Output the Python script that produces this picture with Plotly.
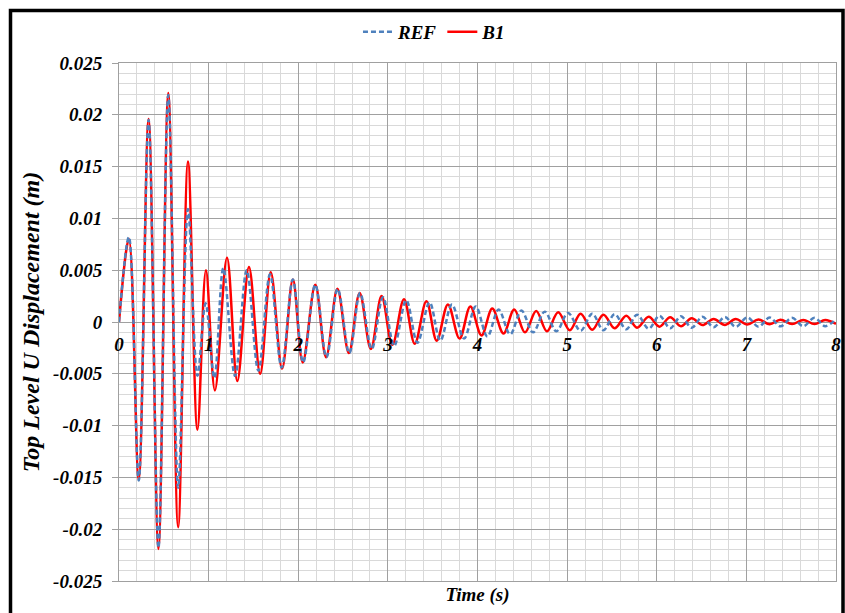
import plotly.graph_objects as go

# B1 (solid red) peaks/troughs
b1_t = [0.0, 0.11, 0.22, 0.33, 0.44, 0.55, 0.66, 0.77, 0.875, 0.97, 1.07, 1.205, 1.32, 1.45, 1.575,
        1.693, 1.82, 1.94, 2.05, 2.19, 2.31, 2.437, 2.565, 2.685, 2.81, 2.93, 3.05, 3.18, 3.30, 3.43,
        3.545, 3.67, 3.80, 3.92, 4.045, 4.165, 4.29, 4.41, 4.53, 4.655, 4.775, 4.90, 5.03, 5.15, 5.28,
        5.405, 5.53, 5.66, 5.78, 5.91, 6.03, 6.15, 6.27, 6.39, 6.51, 6.635, 6.76, 6.88, 7.01, 7.135,
        7.26, 7.38, 7.51, 7.635, 7.76, 7.88, 8.0]
b1_v = [0.0, 0.0080, -0.0152, 0.0196, -0.0219, 0.0221, -0.0198, 0.0155, -0.0104, 0.0050, -0.0066,
        0.0062, -0.0057, 0.0053, -0.0050, 0.0048, -0.0045, 0.0041, -0.0039, 0.0036, -0.0034, 0.0032,
        -0.0030, 0.0028, -0.0026, 0.0025, -0.0022, 0.0022, -0.0021, 0.0020, -0.0018, 0.0017, -0.0016,
        0.0015, -0.0013, 0.0013, -0.0011, 0.0012, -0.0010, 0.00105, -0.0009, 0.00093, -0.0008, 0.0008,
        -0.00075, 0.0007, -0.0006, 0.0006, -0.00055, 0.0005, -0.00045, 0.00045, -0.0004, 0.00035,
        -0.0003, 0.0003, -0.00028, 0.00028, -0.00025, 0.00025, -0.00022, 0.00022, -0.0002, 0.0002,
        -0.0002, 0.0002, -0.00018]

# REF (dashed blue) peaks/troughs
ref_t = [0.0, 0.11, 0.22, 0.33, 0.44, 0.55, 0.66, 0.77, 0.875, 0.966, 1.064, 1.164, 1.295, 1.425,
         1.555, 1.685, 1.815, 1.94, 2.055, 2.19, 2.315, 2.44, 2.57, 2.69, 2.82, 2.945, 3.07, 3.205,
         3.33, 3.465, 3.585, 3.715, 3.85, 3.98, 4.11, 4.235, 4.365, 4.49, 4.62, 4.75, 4.88, 5.01, 5.15,
         5.28, 5.405, 5.53, 5.66, 5.78, 5.91, 6.03, 6.15, 6.27, 6.39, 6.51, 6.635, 6.76, 6.88, 7.01,
         7.135, 7.26, 7.38, 7.51, 7.635, 7.76, 7.88, 8.0]
ref_v = [0.0, 0.0082, -0.0153, 0.0195, -0.0218, 0.0219, -0.0160, 0.0109, -0.0052, 0.0018, -0.0054,
         0.0052, -0.0052, 0.0050, -0.0047, 0.0046, -0.0044, 0.0041, -0.0039, 0.0036, -0.0034, 0.0032,
         -0.0030, 0.0028, -0.0026, 0.0024, -0.0023, 0.0021, -0.0020, 0.0019, -0.0018, 0.0017, -0.0016,
         0.0015, -0.0014, 0.0012, -0.0012, 0.0011, -0.0010, 0.0010, -0.0009, 0.00088, -0.00085, 0.0008,
         -0.0008, 0.00075, -0.0007, 0.0007, -0.00065, 0.0006, -0.0006, 0.00055, -0.00055, 0.0005,
         -0.0005, 0.00048, -0.00047, 0.00045, -0.00045, 0.00043, -0.00042, 0.0004, -0.0004, 0.0004,
         -0.0004, 0.0003]

x_tickvals = [0, 1, 2, 3, 4, 5, 6, 7, 8]
x_ticktext = ["0", "1", "2", "3", "4", "5", "6", "7", "8"]
y_tickvals = [0.025, 0.02, 0.015, 0.01, 0.005, 0, -0.005, -0.01, -0.015, -0.02, -0.025]
y_ticktext = ["0.025", "0.02", "0.015", "0.01", "0.005", "0", "-0.005", "-0.01", "-0.015", "-0.02", "-0.025"]

FONT = "Liberation Serif"
tickfont = dict(family=FONT, size=19, color="black", weight="bold", style="italic")
xtitlefont = dict(family=FONT, size=19, color="black", weight="bold", style="italic")
ytitlefont = dict(family=FONT, size=24, color="black", weight="bold", style="italic")

fig = go.Figure()
fig.add_trace(go.Scatter(x=ref_t, y=ref_v, name="REF", mode="lines", xaxis="x2", yaxis="y",
                         line=dict(color="#4f81bd", width=2.5, dash="5px,3px", shape="spline")))
fig.add_trace(go.Scatter(x=b1_t, y=b1_v, name="B1", mode="lines",
                         line=dict(color="#ff0000", width=2.5, shape="spline")))

major = "#a0a0a0"
minor = "#d9d9d9"

fig.update_layout(
    width=845, height=613,
    margin=dict(l=119, r=9, t=63, b=32, autoexpand=False),
    paper_bgcolor="white", plot_bgcolor="white",
    showlegend=True,
    legend=dict(orientation="h", x=0.44, y=1.06, xanchor="center", yanchor="middle",
                font=dict(family=FONT, size=19, color="black", weight="bold", style="italic"),
                bgcolor="rgba(0,0,0,0)"),
    xaxis=dict(range=[0, 8], tickvals=x_tickvals, showticklabels=False, ticks="",
               showgrid=True, gridcolor=major, gridwidth=1, zeroline=False,
               showline=True, linecolor=major, mirror=True, automargin=False,
               minor=dict(dtick=0.2, showgrid=True, gridcolor=minor, gridwidth=1),
               title=dict(text="Time (s)", font=xtitlefont, standoff=6)),
    xaxis2=dict(range=[0, 8], matches="x", overlaying="x", anchor="free", position=0.5,
                tickvals=x_tickvals, ticktext=x_ticktext, tickfont=tickfont, automargin=False,
                showgrid=False, zeroline=False, showline=False, ticks="outside", ticklen=5,
                tickcolor="rgba(0,0,0,0)"),
    yaxis=dict(range=[-0.025, 0.025], tickvals=y_tickvals, ticktext=y_ticktext, tickfont=tickfont,
               showgrid=True, gridcolor=major, gridwidth=1, zeroline=False,
               showline=True, linecolor=major, mirror=True, automargin=False,
               ticks="outside", ticklen=6, tickcolor=major, ticklabelstandoff=6,
               minor=dict(dtick=0.001, showgrid=True, gridcolor=minor, gridwidth=1),
               title=dict(text="Top Level U Displacement (m)", font=ytitlefont, standoff=6)),
)

# outer chart border
fig.add_shape(type="rect", xref="paper", yref="paper",
              x0=(10.5 - 119) / 717, x1=(843 - 119) / 717,
              y0=(581 - 625) / 518, y1=(581 - 10.5) / 518,
              line=dict(color="black", width=3.5), fillcolor="rgba(0,0,0,0)", layer="above")

fig.write_html("out.html", config={"displayModeBar": False},
               post_script="document.body.style.margin='0';")
